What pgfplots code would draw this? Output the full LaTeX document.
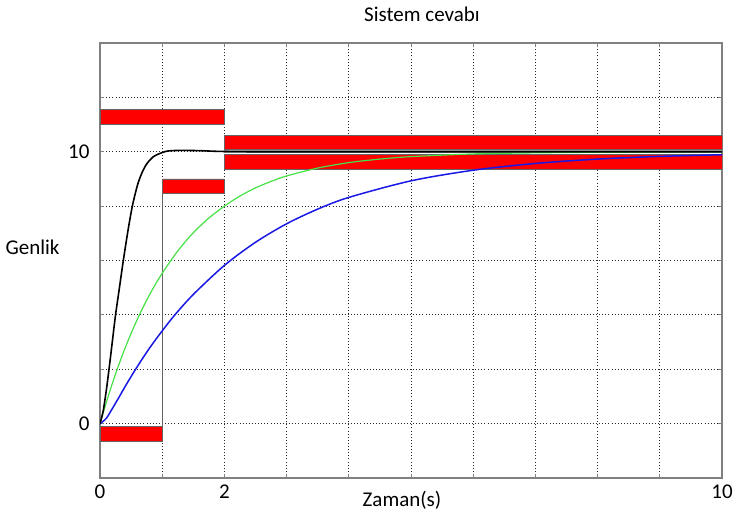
\documentclass[border=0pt]{standalone}
\usepackage{pgfplots}
\pgfplotsset{compat=1.18}
\usepackage{fontspec}
\setmainfont{Carlito}
\definecolor{curvegreen}{RGB}{70,225,70}
\definecolor{curveblue}{RGB}{25,25,230}
\definecolor{edgegray}{RGB}{100,100,100}
\begin{document}
\begin{tikzpicture}[font=\fontsize{21}{25}\selectfont]
\begin{axis}[
  at={(0,0)}, anchor=south west,
  scale only axis, width=622pt, height=435pt,
  xmin=0, xmax=10, ymin=-2, ymax=14,
  xtick={0,1,...,10}, xticklabels={0,,2,,,,,,,,10},
  ytick={-2,0,...,14}, yticklabels={,0,,,,,10,,},
  /pgf/number format/assume math mode=true,
  grid=major,
  major grid style={dash pattern=on 0.9pt off 2.2pt, black!85, line width=0.9pt},
  axis line style={gray, line width=1.2pt},
  tick style={gray, line width=0.8pt},
  major tick length=4pt, tick align=inside,
  xticklabel style={yshift=-3pt},
  yticklabel style={xshift=-7pt},
]
% bound rectangles
\addplot[fill=red, draw=edgegray, line width=0.8pt] coordinates {(0,-0.65) (1,-0.65) (1,-0.1) (0,-0.1) (0,-0.65)};
\addplot[fill=red, draw=edgegray, line width=0.8pt] coordinates {(0,11) (2,11) (2,11.55) (0,11.55) (0,11)};
\addplot[fill=red, draw=edgegray, line width=0.8pt] coordinates {(1,8.46) (2,8.46) (2,9) (1,9) (1,8.46)};
\addplot[fill=red, draw=edgegray, line width=0.8pt] coordinates {(2,10.08) (10,10.08) (10,10.6) (2,10.6) (2,10.08)};
\addplot[fill=red, draw=edgegray, line width=0.8pt] coordinates {(2,9.34) (10,9.34) (10,9.9) (2,9.9) (2,9.34)};
\addplot[edgegray, line width=1.2pt] coordinates {(1,-0.65) (1,8.46)};
\addplot[gray!70, line width=2.5pt] coordinates {(2,10) (10,10)};
% blue curve
\addplot[curveblue, line width=1.5pt, smooth] coordinates {
(0,0) (0.1,0.19) (0.2,0.56) (0.3,0.95) (0.4,1.35) (0.5,1.73) (0.6,2.1) (0.8,2.79) (1,3.41) (1.2,3.99) (1.5,4.75) (2,5.82) (2.5,6.67) (3,7.35) (3.5,7.89) (4,8.32) (5,8.93) (6,9.32) (7,9.57) (8,9.73) (9,9.83) (10,9.89)};
% green curve
\addplot[curvegreen, line width=1.2pt, smooth] coordinates {
(0,0) (0.1,0.77) (0.2,1.49) (0.3,2.15) (0.4,2.76) (0.5,3.32) (0.625,3.96) (0.75,4.54) (0.875,5.06) (1,5.53) (1.25,6.35) (1.5,7.02) (1.75,7.56) (2,8.0) (2.25,8.37) (2.5,8.67) (2.75,8.91) (3,9.11) (3.5,9.4) (4,9.6) (4.5,9.73) (5,9.82) (6,9.92) (7,9.96) (8,9.98) (9,9.99) (10,10)};
% black curve
\addplot[black, line width=1.6pt, smooth] coordinates {
(0,0) (0.05,0.45) (0.1,1.2) (0.145,2) (0.2,3.05) (0.25,4) (0.3,4.8) (0.375,6) (0.45,7.1) (0.52,8) (0.6,8.75) (0.67,9.2) (0.75,9.55) (0.86,9.82) (1.0,9.97) (1.1,10.03) (1.3,10.05) (1.6,10.04) (2,10.01) (3,10) (10,10)};
\end{axis}
\node[anchor=base] at (322pt,456pt) {Sistem cevabı};
\node[anchor=base] at (302pt,-29pt) {Zaman(s)};
\node[anchor=east] at (-37pt,231pt) {Genlik};
\pgfresetboundingbox
\useasboundingbox (-100pt,-43pt) rectangle (635pt,478pt);
\end{tikzpicture}
\end{document}
